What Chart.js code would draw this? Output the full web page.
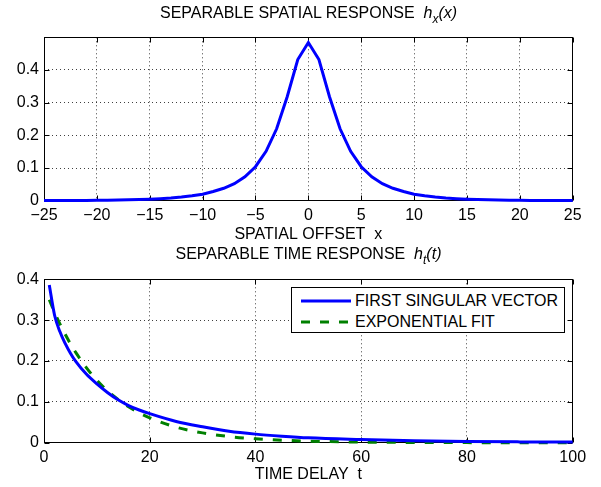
<!DOCTYPE html>
<html>
<head>
<meta charset="utf-8">
<script src="https://cdn.jsdelivr.net/npm/chart.js@4.4.0/dist/chart.umd.min.js"></script>
<style>
  body { margin: 0; background: #fff; }
  #wrap { position: relative; width: 601px; height: 487px; font-family: 'Liberation Sans', Arial, sans-serif; color: #000; }
  #wrap canvas { position: absolute; left: 0; }
  .title { position: absolute; left: 44px; width: 529px; text-align: center; font-size: 16px; line-height: 19px; white-space: pre; }
  .title sub { font-size: 12px; line-height: 0; vertical-align: -5px; }
  #legend { position: absolute; left: 291px; top: 287px; width: 274px; height: 46px; box-sizing: border-box; border: 1px solid #000; background: #fff; font-size: 16px; }
  #legend .row { position: absolute; left: 0; height: 19px; line-height: 19px; white-space: nowrap; }
  #legend svg { position: absolute; left: 9px; top: 7px; }
  #legend span { position: absolute; left: 63px; top: 0; }
</style>
</head>
<body>
<div id="wrap">
  <canvas id="spatial" width="601" height="245" style="top:0"></canvas>
  <canvas id="temporal" width="601" height="242" style="top:245px"></canvas>
  <div class="title" style="top:3px">SEPARABLE SPATIAL RESPONSE  <i>h<sub>x</sub>(x)</i></div>
  <div class="title" style="top:244px">SEPARABLE TIME RESPONSE  <i>h<sub>t</sub>(t)</i></div>
  <div id="legend"></div>
</div>
<script>
// ── Data ────────────────────────────────────────────────────────

const xOffsets = [-25, -24, -23, -22, -21, -20, -19, -18, -17, -16, -15, -14, -13, -12, -11, -10,
    -9, -8, -7, -6, -5, -4, -3, -2, -1, 0, 1, 2, 3, 4, 5, 6, 7, 8, 9,
    10, 11, 12, 13, 14, 15, 16, 17, 18, 19, 20, 21, 22, 23, 24, 25];
const spatialResp = [0.0003, 0.0004, 0.0005, 0.0007, 0.0009, 0.0012, 0.0015, 0.002, 0.0026, 0.0034,
    0.0045, 0.006, 0.008, 0.011, 0.015, 0.020, 0.028, 0.038, 0.052, 0.073, 0.104, 0.151, 0.220, 0.318, 0.432,
    0.484,
    0.432, 0.318, 0.220, 0.151, 0.104, 0.073, 0.052, 0.038, 0.028, 0.020, 0.015, 0.011, 0.008, 0.006, 0.0045,
    0.0034, 0.0026, 0.002, 0.0015, 0.0012, 0.0009, 0.0007, 0.0005, 0.0004, 0.0003];

const tDelay = [1, 2, 3, 4, 5, 6, 8, 10, 12, 14, 16, 18, 20, 25, 30, 35, 40, 45, 50, 60, 70, 80, 90, 100];
const firstSingular = [0.386, 0.312, 0.272, 0.243, 0.219, 0.199, 0.168, 0.144, 0.123, 0.105, 0.091, 0.080,
    0.071, 0.052, 0.039, 0.028, 0.021, 0.016, 0.012, 0.008, 0.005, 0.003, 0.002, 0.0015];
const expFit = [0.350, 0.319, 0.291, 0.266, 0.242, 0.221, 0.184, 0.153, 0.127, 0.106, 0.088, 0.073,
    0.061, 0.038, 0.024, 0.015, 0.0097, 0.0061, 0.0039, 0.0015, 0.0006, 0.0002, 0.0001, 0.00004];

const spatialTicksX = [-25, -20, -15, -10, -5, 0, 5, 10, 15, 20, 25];
const spatialTicksY = [0, 0.1, 0.2, 0.3, 0.4];
const timeTicksX = [0, 20, 40, 60, 80, 100];
const timeTicksY = [0, 0.1, 0.2, 0.3, 0.4];

const legendLabels = ['FIRST SINGULAR VECTOR', 'EXPONENTIAL FIT'];

// ── Defaults ────────────────────────────────────────────────────

const FONT = { family: "'Liberation Sans', Arial, sans-serif", size: 16 };
Chart.defaults.color = '#000';
Chart.defaults.font.family = FONT.family;
Chart.defaults.font.size = 16;

const pairs = (xs, ys) => xs.map((x, i) => ({ x, y: ys[i] }));
const minus = (v) => v < 0 ? '\u2212' + Math.abs(v) : String(v);
const yfmt = (v) => v === 0 ? '0' : (+v).toFixed(1);

// box round the axes, with MATLAB-style inward ticks
const frame = {
    id: 'frame',
    beforeDatasetsDraw(chart) {
        const { ctx, chartArea: a, scales: { x, y } } = chart;
        const L = Math.round(a.left) + 0.5, R = Math.round(a.right) - 0.5;
        const T = Math.round(a.top) + 0.5, B = Math.round(a.bottom) - 0.5;
        const len = 5;
        ctx.save();
        ctx.strokeStyle = '#000';
        ctx.lineWidth = 1;
        ctx.strokeRect(L, T, R - L, B - T);
        ctx.beginPath();
        x.ticks.forEach(t => {
            const px = Math.round(x.getPixelForValue(t.value)) + 0.5;
            ctx.moveTo(px, B); ctx.lineTo(px, B - len);
            ctx.moveTo(px, T); ctx.lineTo(px, T + len);
        });
        y.ticks.forEach(t => {
            const py = Math.round(y.getPixelForValue(t.value)) + 0.5;
            ctx.moveTo(L, py); ctx.lineTo(L + len, py);
            ctx.moveTo(R, py); ctx.lineTo(R - len, py);
        });
        ctx.stroke();
        ctx.restore();
    }
};

function axisX(min, max, ticks, title, titlePad, fmt) {
    return {
        type: 'linear', min, max,
        afterBuildTicks: (s) => { s.ticks = ticks.map(value => ({ value })); },
        afterFit: (s) => { s.height = 44.3; s.paddingLeft = 0; s.paddingRight = 0; },
        ticks: { padding: 5, maxRotation: 0, autoSkip: false, callback: fmt, font: FONT, color: '#000' },
        grid: { color: 'rgba(0,0,0,0.75)', drawTicks: false },
        border: { display: false, dash: [1, 3] },
        title: { display: true, text: title, font: FONT, color: '#000', padding: { top: 0, bottom: titlePad } },
    };
}

function axisY(min, max, ticks) {
    return {
        min, max,
        afterBuildTicks: (s) => { s.ticks = ticks.map(value => ({ value })); },
        afterFit: (s) => { s.width = 44; s.paddingTop = 0; s.paddingBottom = 0; },
        ticks: { padding: 5, callback: yfmt, font: FONT, color: '#000' },
        grid: { color: 'rgba(0,0,0,0.75)', drawTicks: false },
        border: { display: false, dash: [1, 3] },
    };
}

const baseOpts = {
    responsive: false,
    animation: false,
    events: [],
    plugins: { legend: { display: false }, tooltip: { enabled: false } },
};

// ── Top: spatial response ───────────────────────────────────────

new Chart(document.getElementById('spatial'), {
    type: 'line',
    data: {
        datasets: [{
            label: 'h_x(x)',
            data: pairs(xOffsets, spatialResp),
            borderColor: '#0000ff',
            borderWidth: 3,
            pointRadius: 0,
            tension: 0,
            clip: 3,
        }],
    },
    options: {
        ...baseOpts,
        layout: { padding: { top: 37.3, right: 28.3, bottom: 0, left: 0 } },
        scales: {
            x: axisX(-25, 25, spatialTicksX, 'SPATIAL OFFSET  x', 0.4, minus),
            y: axisY(0, 0.5, spatialTicksY),
        },
    },
    plugins: [frame],
});

// ── Bottom: time response ───────────────────────────────────────

const timeChart = new Chart(document.getElementById('temporal'), {
    type: 'line',
    data: {
        datasets: [{
            label: legendLabels[0],
            data: pairs(tDelay, firstSingular),
            borderColor: '#0000ff',
            borderWidth: 3,
            pointRadius: 0,
            cubicInterpolationMode: 'monotone',
            clip: 3,
        }, {
            label: legendLabels[1],
            data: pairs(tDelay, expFit),
            borderColor: '#008000',
            borderWidth: 3,
            borderDash: [9, 10],
            pointRadius: 0,
            cubicInterpolationMode: 'monotone',
            clip: 3,
        }],
    },
    options: {
        ...baseOpts,
        layout: { padding: { top: 34.3, right: 28.3, bottom: 0, left: 0 } },
        scales: {
            x: axisX(0, 100, timeTicksX, 'TIME DELAY  t', 2.4, (v) => String(v)),
            y: axisY(0, 0.4, timeTicksY),
        },
    },
    plugins: [frame],
});

// ── Legend (boxed, like MATLAB) ─────────────────────────────────

const legend = document.getElementById('legend');
timeChart.data.datasets.forEach((ds, i) => {
    const row = document.createElement('div');
    row.className = 'row';
    row.style.top = (3 + i * 20.5) + 'px';
    const dash = ds.borderDash ? ds.borderDash.join(',') : 'none';
    row.innerHTML =
        `<svg width="50" height="6"><line x1="0" y1="3" x2="50" y2="3" stroke="${ds.borderColor}" ` +
        `stroke-width="3" stroke-dasharray="${dash}"/></svg><span>${ds.label}</span>`;
    legend.appendChild(row);
});
</script>
</body>
</html>
